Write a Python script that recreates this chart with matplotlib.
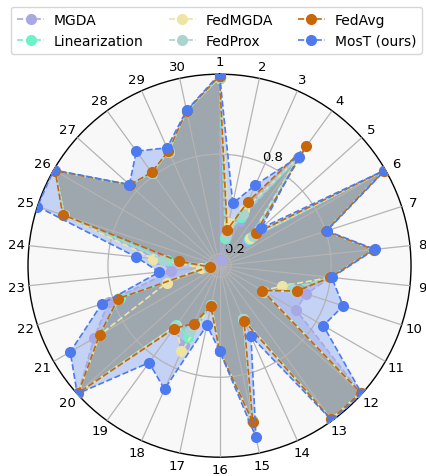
import numpy as np
import matplotlib
matplotlib.use("Agg")
import matplotlib.pyplot as plt
from matplotlib.lines import Line2D

categories = [str(i) for i in range(1, 31)]
series_names = ["MGDA", "Linearization", "FedMGDA", "FedProx", "FedAvg", "MosT (ours)"]

MGDA = [1.26, 0.166, 0.427, 0.93, 0.349, 1.27, 0.80, 1.06, 0.80, 0.678,
        0.66, 1.27, 1.27, 0.48, 1.08, 0.64, 0.37, 0.65, 0.60, 1.27,
        1.00, 0.83, 0.42, 0.50, 1.11, 1.27, 0.855, 0.82, 0.88, 1.08]
Linearization = [1.26, 0.30, 0.452, 0.93, 0.37, 1.27, 0.80, 1.06, 0.80, 0.573,
                 0.44, 1.27, 1.27, 0.48, 1.08, 0.64, 0.37, 0.598, 0.57, 1.27,
                 0.96, 0.76, 0.20, 0.45, 1.11, 1.27, 0.855, 0.82, 0.88, 1.08]
FedMGDA = [1.26, 0.391, 0.494, 0.93, 0.38, 1.27, 0.80, 1.06, 0.80, 0.526,
           0.43, 1.27, 1.27, 0.48, 1.08, 0.64, 0.37, 0.694, 0.575, 1.27,
           0.96, 0.464, 0.24, 0.53, 1.11, 1.27, 0.855, 0.82, 0.88, 1.08]
FedProx = [1.26, 0.32, 0.47, 0.93, 0.40, 1.27, 0.80, 1.06, 0.80, 0.59,
           0.44, 1.27, 1.27, 0.48, 1.08, 0.64, 0.37, 0.56, 0.58, 1.27,
           0.96, 0.77, 0.20, 0.47, 1.11, 1.27, 0.855, 0.82, 0.88, 1.08]
FedAvg = [1.27, 0.35, 0.551, 1.015, 0.422, 1.27, 0.80, 1.06, 0.80, 0.621,
          0.428, 1.27, 1.27, 0.492, 1.087, 0.64, 0.38, 0.51, 0.597, 1.27,
          0.962, 0.77, 0.19, 0.373, 1.12, 1.27, 0.855, 0.823, 0.884, 1.08]
MosT = [1.28, 0.513, 0.661, 0.938, 0.467, 1.28, 0.807, 1.068, 0.807, 0.911,
        0.85, 1.28, 1.28, 0.594, 1.182, 0.64, 0.495, 0.942, 0.85, 1.28,
        1.165, 0.874, 0.494, 0.634, 1.28, 1.28, 0.858, 0.98, 0.905, 1.083]

r_ticks = [0.2, 0.8]
r_tick_labels = ["0.2", "0.8"]
colors = ["#a8a8e4", "#6cf2c8", "#eee4a4", "#a9d4cf", "#c8660a", "#4d7bef"]

all_series = [MGDA, Linearization, FedMGDA, FedProx, FedAvg, MosT]

fig = plt.figure(figsize=(4.27, 4.77), dpi=100)
ax = fig.add_axes([0.0656, 0.0394, 0.897, 0.803], projection="polar")
ax.set_theta_offset(np.pi / 2)
ax.set_theta_direction(-1)
ax.set_facecolor("#f8f8f8")

n = len(categories)
theta = np.arange(n) * 2 * np.pi / n
theta_c = np.concatenate([theta, theta[:1]])

handles = []
for name, vals, col in zip(series_names, all_series, colors):
    v = np.array(vals + vals[:1])
    ax.fill(theta_c, v, color=col, alpha=0.3, zorder=1, lw=0)
    ax.plot(theta_c, v, linestyle="--", color=col, lw=1.2, marker="o",
            markersize=7, zorder=3)
    handles.append(Line2D([0], [0], linestyle="--", color=col, lw=1.2,
                          marker="o", markersize=7, label=name))

ax.set_ylim(0.13, 1.28)
ax.set_xticks(theta)
ax.set_xticklabels(categories, fontsize=9.5)
ax.set_yticks(r_ticks)
ax.set_yticklabels(r_tick_labels, fontsize=9.5)
ax.set_rlabel_position(22.5)
ax.set_axisbelow(False)
ax.grid(True, color="#b4b4b4", lw=0.9, zorder=2.5)
ax.tick_params(axis="x", pad=-1.5)
ax.spines["polar"].set_color("black")
ax.spines["polar"].set_linewidth(1.0)

fig.legend(handles=handles, loc="upper center", ncol=3, fontsize=10,
           bbox_to_anchor=(0.507, 0.99), frameon=True, fancybox=True,
           handlelength=1.95, handletextpad=0.7, columnspacing=1.8,
           borderpad=0.45, labelspacing=0.5, borderaxespad=0.2)

fig.savefig("out.png", dpi=100)
